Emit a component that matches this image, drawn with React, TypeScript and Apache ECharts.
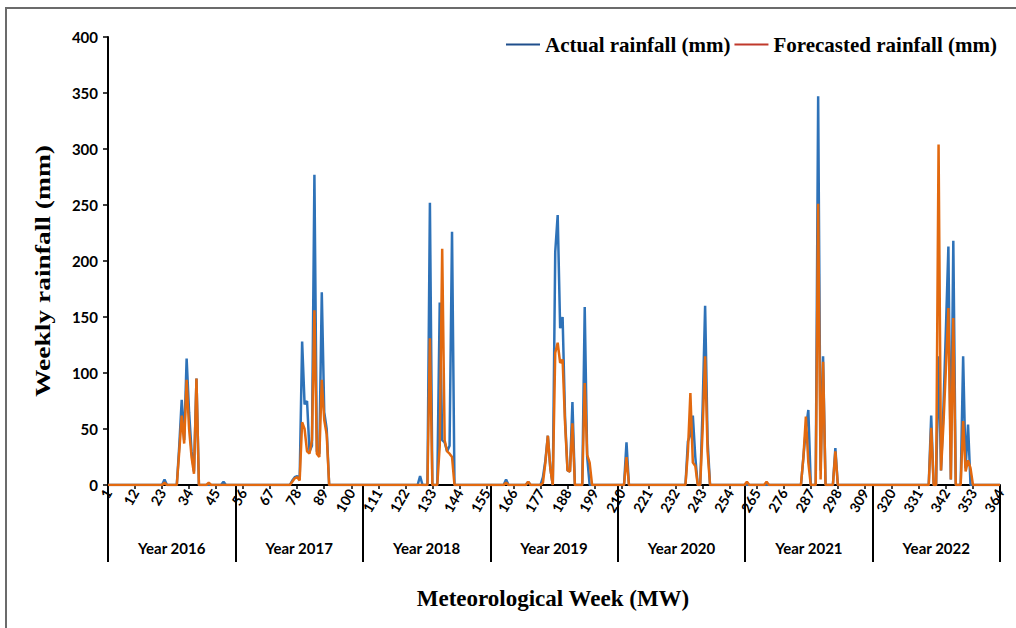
import React, { useEffect, useRef } from "react";
import * as echarts from "echarts";

// Category labels
const years = ["Year 2016", "Year 2017", "Year 2018", "Year 2019", "Year 2020", "Year 2021", "Year 2022"];
const weeks = Array.from({ length: 364 }, (_, i) => String(i + 1));

// Weekly values per year (52 weeks each)
const actual2016 = [
  0, 0, 0, 0, 0, 0, 0, 0, 0, 0, 0, 0, 0,
  0, 0, 0, 0, 0, 0, 0, 0, 0, 0, 5, 0, 0,
  0, 0, 0, 35, 76, 40, 113, 65, 30, 12, 95, 0, 0,
  0, 0, 0, 0, 0, 0, 0, 0, 3, 0, 0, 0, 0,
];
const forecast2016 = [
  0, 0, 0, 0, 0, 0, 0, 0, 0, 0, 0, 0, 0,
  0, 0, 0, 0, 0, 0, 0, 0, 0, 0, 2, 0, 0,
  0, 0, 0, 30, 62, 37, 94, 50, 25, 10, 95, 0, 0,
  0, 0, 2, 0, 0, 0, 0, 0, 0, 0, 0, 0, 0,
];
const actual2017 = [
  0, 0, 0, 0, 0, 0, 0, 0, 0, 0, 0, 0, 0,
  0, 0, 0, 0, 0, 0, 0, 0, 0, 0, 4, 7, 8,
  5, 128, 72, 75, 30, 35, 277, 30, 28, 172, 65, 50, 0,
  0, 0, 0, 0, 0, 0, 0, 0, 0, 0, 0, 0, 0,
];
const forecast2017 = [
  0, 0, 0, 0, 0, 0, 0, 0, 0, 0, 0, 0, 0,
  0, 0, 0, 0, 0, 0, 0, 0, 0, 0, 3, 6, 7,
  4, 56, 50, 30, 28, 40, 156, 28, 25, 94, 58, 45, 0,
  0, 0, 0, 0, 0, 0, 0, 0, 0, 0, 0, 0, 0,
];
const actual2018 = [
  0, 0, 0, 0, 0, 0, 0, 0, 0, 0, 0, 0, 0,
  0, 0, 0, 0, 0, 0, 0, 0, 0, 0, 8, 0, 0,
  0, 252, 0, 0, 0, 163, 40, 38, 30, 35, 226, 0, 0,
  0, 0, 0, 0, 0, 0, 0, 0, 0, 0, 0, 0, 0,
];
const forecast2018 = [
  0, 0, 0, 0, 0, 0, 0, 0, 0, 0, 0, 0, 0,
  0, 0, 0, 0, 0, 0, 0, 0, 0, 0, 0, 0, 0,
  0, 131, 0, 0, 0, 35, 211, 40, 30, 28, 25, 0, 0,
  0, 0, 0, 0, 0, 0, 0, 0, 0, 0, 0, 0, 0,
];
const actual2019 = [
  0, 0, 0, 0, 0, 0, 5, 0, 0, 0, 0, 0, 0,
  0, 0, 3, 0, 0, 0, 0, 0, 7, 22, 44, 15, 0,
  208, 241, 140, 150, 60, 13, 12, 74, 0, 0, 0, 0, 159,
  25, 0, 0, 0, 0, 0, 0, 0, 0, 0, 0, 0, 0,
];
const forecast2019 = [
  0, 0, 0, 0, 0, 0, 2, 0, 0, 0, 0, 0, 0,
  0, 0, 3, 0, 0, 0, 0, 0, 2, 20, 44, 15, 0,
  118, 127, 109, 112, 55, 13, 12, 55, 0, 0, 0, 0, 91,
  27, 20, 0, 0, 0, 0, 0, 0, 0, 0, 0, 0, 0,
];
const actual2020 = [
  0, 0, 0, 38, 0, 0, 0, 0, 0, 0, 0, 0, 0,
  0, 0, 0, 0, 0, 0, 0, 0, 0, 0, 0, 0, 0,
  0, 0, 39, 45, 62, 25, 0, 0, 70, 160, 40, 0, 0,
  0, 0, 0, 0, 0, 0, 0, 0, 0, 0, 0, 0, 0,
];
const forecast2020 = [
  0, 0, 0, 25, 0, 0, 0, 0, 0, 0, 0, 0, 0,
  0, 0, 0, 0, 0, 0, 0, 0, 0, 0, 0, 0, 0,
  0, 0, 30, 82, 20, 17, 0, 0, 50, 115, 30, 0, 0,
  0, 0, 0, 0, 0, 0, 0, 0, 0, 0, 0, 0, 0,
];
const actual2021 = [
  0, 0, 0, 0, 0, 0, 0, 0, 0, 0, 0, 0, 0,
  0, 0, 0, 0, 0, 0, 0, 0, 0, 0, 25, 50, 67,
  0, 0, 0, 347, 13, 115, 0, 0, 0, 0, 33, 0, 0,
  0, 0, 0, 0, 0, 0, 0, 0, 0, 0, 0, 0, 0,
];
const forecast2021 = [
  3, 0, 0, 0, 0, 0, 0, 0, 3, 0, 0, 0, 0,
  0, 0, 0, 0, 0, 0, 0, 0, 0, 0, 25, 61, 20,
  0, 0, 0, 251, 5, 110, 0, 0, 0, 0, 30, 0, 0,
  0, 0, 0, 0, 0, 0, 0, 0, 0, 0, 0, 0, 0,
];
const actual2022 = [
  0, 0, 0, 0, 0, 0, 0, 0, 0, 0, 0, 0, 0,
  0, 0, 0, 0, 0, 0, 0, 0, 0, 0, 62, 0, 0,
  115, 13, 70, 140, 213, 5, 218, 0, 0, 0, 115, 15, 54,
  0, 0, 0, 0, 0, 0, 0, 0, 0, 0, 0, 0, 0,
];
const forecast2022 = [
  0, 0, 0, 0, 0, 0, 0, 0, 0, 0, 0, 0, 0,
  0, 0, 0, 0, 0, 0, 0, 0, 0, 0, 51, 0, 0,
  304, 13, 55, 105, 158, 5, 149, 0, 0, 0, 57, 12, 22,
  15, 0, 0, 0, 0, 0, 0, 0, 0, 0, 0, 0, 0,
];

const actual = [
  ...actual2016, ...actual2017, ...actual2018, ...actual2019,
  ...actual2020, ...actual2021, ...actual2022,
];
const forecast = [
  ...forecast2016, ...forecast2017, ...forecast2018, ...forecast2019,
  ...forecast2020, ...forecast2021, ...forecast2022,
];

const ACTUAL = "Actual rainfall (mm)";
const FORECAST = "Forecasted rainfall (mm)";

export default function App() {
  const ref = useRef<HTMLDivElement>(null);

  useEffect(() => {
    if (!ref.current) return;
    const chart = echarts.init(ref.current, null, { renderer: "svg" });
    const sans = "Lato";
    const serif = "Liberation Serif";
    chart.setOption({
      animation: false,
      backgroundColor: "#ffffff",
      grid: { left: 108, right: 16, top: 37, bottom: 143, containLabel: false },
      legend: {
        right: 14,
        top: 29,
        icon: "rect",
        itemWidth: 34,
        itemHeight: 2,
        itemGap: 4,
        textStyle: { fontFamily: serif, fontWeight: "bold", fontSize: 21, color: "#000" },
        data: [
          { name: ACTUAL, itemStyle: { color: "#1f4e8c" } },
          { name: FORECAST, itemStyle: { color: "#c0392b" } },
        ],
      },
      xAxis: [
        {
          type: "category",
          data: weeks,
          boundaryGap: false,
          axisLine: { show: true, lineStyle: { color: "#000", width: 2 } },
          axisTick: { show: true, interval: 10, length: 4, lineStyle: { color: "#000", width: 1.5 } },
          axisLabel: {
            interval: 10,
            rotate: 60,
            margin: 5,
            fontFamily: sans,
            fontWeight: "bold",
            fontSize: 14,
            color: "#000",
          },
          splitLine: { show: false },
        },
        {
          type: "category",
          data: years,
          position: "bottom",
          offset: 0,
          boundaryGap: true,
          axisLine: { show: false },
          axisTick: { show: true, interval: 0, length: 77, lineStyle: { color: "#000", width: 2 } },
          axisLabel: {
            interval: 0,
            margin: 55,
            fontFamily: sans,
            fontWeight: "bold",
            fontSize: 15,
            color: "#000",
          },
          splitLine: { show: false },
        },
      ],
      yAxis: {
        type: "value",
        min: 0,
        max: 400,
        interval: 50,
        axisLine: { show: true, lineStyle: { color: "#000", width: 2 } },
        axisTick: { show: true, length: 5, lineStyle: { color: "#000", width: 1.5 } },
        axisLabel: { fontFamily: sans, fontWeight: "bold", fontSize: 15, color: "#000", margin: 10 },
        splitLine: { show: false },
      },
      series: [
        {
          name: ACTUAL,
          type: "line",
          xAxisIndex: 0,
          data: actual,
          symbol: "none",
          showSymbol: false,
          lineStyle: { color: "#2e72b8", width: 2.5 },
          itemStyle: { color: "#2e72b8" },
        },
        {
          name: FORECAST,
          type: "line",
          xAxisIndex: 0,
          data: forecast,
          symbol: "none",
          showSymbol: false,
          lineStyle: { color: "#e2690f", width: 2.5 },
          itemStyle: { color: "#e2690f" },
        },
      ],
      graphic: [
        {
          type: "rect",
          silent: true,
          z: -10,
          shape: { x: 6, y: 8, width: 1040, height: 660 },
          style: { fill: "none", stroke: "#6b6b6b", lineWidth: 2 },
        },
        {
          type: "text",
          x: 42,
          y: 271,
          rotation: Math.PI / 2,
          scaleX: 1.25,
          style: {
            text: "Weekly rainfall (mm)",
            fontFamily: serif,
            fontWeight: "bold",
            fontSize: 22,
            fill: "#000",
            align: "center",
            verticalAlign: "middle",
            textAlign: "center",
            textVerticalAlign: "middle",
          },
        },
        {
          type: "text",
          x: 553,
          y: 598,
          style: {
            text: "Meteorological Week (MW)",
            fontFamily: serif,
            fontWeight: "bold",
            fontSize: 23,
            fill: "#000",
            align: "center",
            verticalAlign: "middle",
            textAlign: "center",
            textVerticalAlign: "middle",
          },
        },
      ],
    });
    return () => chart.dispose();
  }, []);

  return (
    <div
      ref={ref}
      style={{ position: "absolute", left: 0, top: 0, width: 1016, height: 628 }}
    />
  );
}
